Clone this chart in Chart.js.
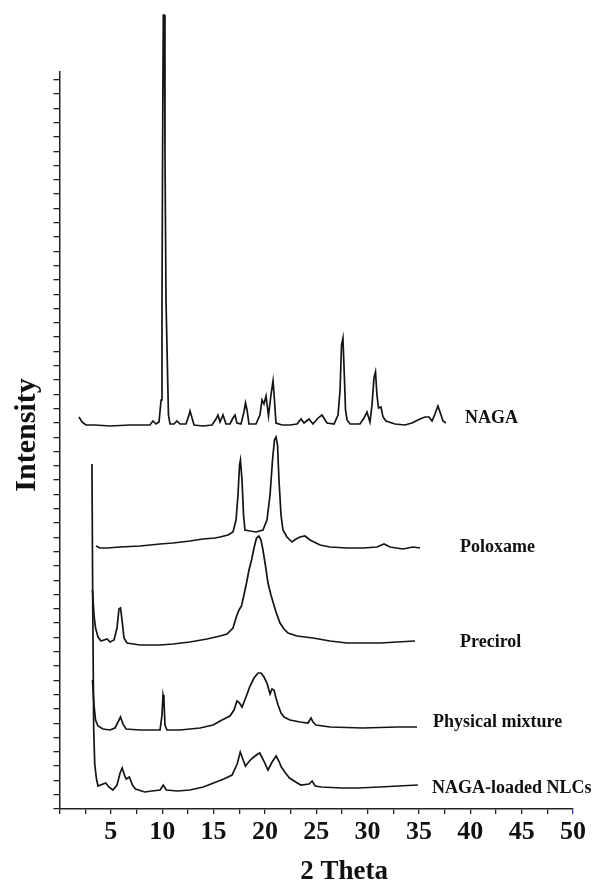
<!DOCTYPE html>
<html>
<head>
<meta charset="utf-8">
<script src="https://cdn.jsdelivr.net/npm/chart.js@4.4.1/dist/chart.umd.min.js"></script>
<style>
  html, body { margin: 0; padding: 0; background: #fff; }
  #wrap { width: 595px; height: 889px; position: relative; }
</style>
</head>
<body>
<div id="wrap"><canvas id="c"></canvas></div>
<script>
// ---- data: [2 theta, intensity (a.u., stacked as plotted)] ----
const nagaData = [[1.90,392],[2.19,387],[2.58,384],[3.46,384],[4.92,383],[6.86,384],[8.81,384],[9.10,388],[9.40,385],[9.69,387],[9.89,409],[9.98,509],[10.06,709],[10.11,794],[10.21,794],[10.27,659],[10.37,509],[10.51,441],[10.61,394],[10.76,385],[11.15,385],[11.44,388],[11.73,385],[12.32,385],[12.61,394],[12.71,398],[12.85,393],[13.10,384],[13.97,383],[14.85,384],[15.24,390],[15.43,394],[15.63,387],[15.92,394],[16.21,385],[16.60,385],[16.89,391],[17.09,394],[17.28,386],[17.67,385],[17.96,397],[18.11,406],[18.26,399],[18.45,385],[19.13,385],[19.52,394],[19.72,409],[19.91,405],[20.11,413],[20.35,393],[20.59,414],[20.79,428],[20.93,409],[21.08,386],[21.67,384],[22.44,384],[23.13,385],[23.52,390],[23.81,386],[24.29,390],[24.68,385],[25.17,391],[25.56,394],[26.05,386],[26.73,385],[27.12,394],[27.32,419],[27.46,464],[27.60,471],[27.75,429],[27.85,399],[28.0,389],[28.29,385],[29.26,385],[29.65,391],[29.94,397],[30.23,387],[30.43,404],[30.62,431],[30.77,437],[30.91,414],[31.06,401],[31.30,402],[31.50,392],[31.79,388],[32.67,385],[33.64,384],[34.32,386],[34.71,388],[35.10,390],[35.59,392],[35.98,392],[36.27,388],[36.56,395],[36.85,403],[37.15,394],[37.34,388],[37.63,386]];

const poloxamerData = [[3.55,263],[3.94,261],[4.63,261],[5.89,262],[7.84,263],[9.79,265],[11.05,266],[12.71,268],[13.97,270],[15.14,271],[15.63,272],[16.41,274],[16.89,277],[17.19,289],[17.38,314],[17.53,344],[17.62,349],[17.77,329],[17.92,294],[18.06,279],[18.55,278],[19.13,277],[19.81,279],[20.20,289],[20.50,314],[20.74,349],[20.93,369],[21.08,372],[21.23,364],[21.37,329],[21.57,294],[21.76,279],[22.15,272],[22.64,267],[23.03,270],[23.42,272],[23.90,273],[24.39,269],[25.37,264],[26.34,262],[27.99,261],[29.55,261],[30.92,262],[31.60,265],[32.18,262],[33.45,260],[34.42,262],[35.10,261]];

const precirolData = [[3.21,219],[3.36,194],[3.51,181],[3.75,172],[4.04,168],[4.33,169],[4.63,170],[4.92,167],[5.31,169],[5.60,181],[5.79,200],[5.94,201],[6.09,189],[6.28,171],[6.57,166],[7.84,164],[9.79,164],[11.05,165],[12.71,167],[14.36,170],[15.63,173],[16.31,175],[16.89,181],[17.28,194],[17.48,199],[17.72,203],[17.96,214],[18.21,226],[18.45,239],[18.70,249],[18.94,261],[19.18,271],[19.42,273],[19.62,269],[19.81,259],[20.06,243],[20.30,226],[20.59,214],[20.79,207],[21.08,197],[21.47,186],[21.86,180],[22.25,176],[23.13,173],[24.68,171],[26.34,168],[27.99,166],[29.55,166],[31.21,166],[32.86,167],[34.61,168]];

const physicalMixtureData = [[3.21,129],[3.36,104],[3.51,89],[3.75,83],[4.24,80],[4.92,79],[5.40,81],[5.70,87],[5.94,92],[6.18,85],[6.48,80],[7.84,79],[9.79,79],[9.98,94],[10.08,114],[10.17,109],[10.27,84],[10.47,79],[11.73,79],[12.71,80],[13.68,81],[14.95,84],[15.82,89],[16.60,93],[16.99,99],[17.28,108],[17.53,106],[17.77,102],[18.16,112],[18.55,123],[18.94,131],[19.33,136],[19.62,136],[19.91,132],[20.20,126],[20.50,115],[20.69,120],[20.89,119],[21.08,111],[21.28,104],[21.57,96],[21.86,92],[22.44,89],[23.42,87],[24.20,86],[24.49,91],[24.68,87],[24.98,84],[26.34,82],[29.55,81],[32.86,82],[34.81,82]];

const nlcData = [[3.16,345],[3.24,200],[3.33,80],[3.43,45],[3.6,30],[3.75,23],[4.0,24],[4.5,26],[4.8,22],[5.2,19],[5.6,24],[5.9,36],[6.1,41],[6.35,33],[6.5,30],[6.8,32],[7.1,24],[7.4,20],[8.3,17],[9.0,18],[9.8,19],[10.1,24],[10.4,19],[11.5,18],[12.7,19],[14.0,22],[15.0,26],[16.0,30],[16.8,34],[17.3,45],[17.6,57],[17.85,50],[18.1,43],[18.5,48],[18.8,51],[19.3,55],[19.5,56],[19.9,48],[20.3,39],[20.7,47],[21.1,53],[21.4,47],[21.6,42],[22.0,36],[22.4,31],[23.0,27],[23.5,24],[24.3,25],[24.6,28],[24.9,23],[25.5,22],[27.5,21],[29.0,21],[31.2,22],[33.0,23],[34.9,24]];

const seriesNames = ['NAGA', 'Poloxame', 'Precirol', 'Physical mixture', 'NAGA-loaded NLCs'];
const xTickLabels = ['5','10','15','20','25','30','35','40','45','50'];
const xTitle = '2 Theta';
const yTitle = 'Intensity';

// ---- presentation ----
const allSeries = [nagaData, poloxamerData, precirolData, physicalMixtureData, nlcData];
const labelPos = [[465, 418], [460, 547], [460, 642], [433, 722], [432, 788]];
const serif = '"Liberation Serif", "Times New Roman", serif';

const textPlugin = {
  id: 'texts',
  afterDraw(chart) {
    const ctx = chart.ctx;
    ctx.save();
    ctx.fillStyle = '#111';
    ctx.textBaseline = 'middle';
    ctx.textAlign = 'left';
    ctx.font = 'bold 18px ' + serif;
    seriesNames.forEach((n, i) => ctx.fillText(n, labelPos[i][0], labelPos[i][1]));
    ctx.textAlign = 'center';
    ctx.font = 'bold 27px ' + serif;
    ctx.fillText(xTitle, 344, 872);
    ctx.translate(27, 435);
    ctx.rotate(-Math.PI / 2);
    ctx.font = 'bold 30px ' + serif;
    ctx.fillText(yTitle, 0, 0);
    ctx.restore();
  }
};

new Chart(document.getElementById('c'), {
  type: 'line',
  data: {
    datasets: allSeries.map((s, i) => ({
      label: seriesNames[i],
      data: s.map(p => ({ x: p[0], y: p[1] })),
      borderColor: '#141414',
      borderWidth: 1.7,
      pointRadius: 0,
      tension: 0,
      fill: false,
      clip: false
    }))
  },
  options: {
    responsive: true,
    maintainAspectRatio: false,
    animation: false,
    layout: { padding: { left: 0, right: 22, top: 72, bottom: 0 } },
    plugins: { legend: { display: false }, tooltip: { enabled: false } },
    scales: {
      x: {
        type: 'linear',
        min: 0, max: 50,
        afterFit(scale) { scale.height = 80; },
        border: { display: true, color: '#222', width: 1.5 },
        grid: {
          drawOnChartArea: false, drawTicks: true, tickLength: 5, lineWidth: 1.3,
          color: (c) => (c.tick && c.tick.value === 50) ? '#2b2bd6' : '#222'
        },
        ticks: {
          stepSize: 2.5, autoSkip: false, maxRotation: 0, includeBounds: false,
          padding: 3, color: '#111',
          font: { family: serif, size: 26, weight: 'bold' },
          callback: (v) => xTickLabels.includes(String(v)) ? String(v) : ''
        }
      },
      y: {
        type: 'linear',
        min: 0, max: 737,
        afterFit(scale) { scale.width = 59.5; },
        border: { display: true, color: '#222', width: 1.5 },
        grid: { drawOnChartArea: false, drawTicks: true, tickLength: 6, color: '#222', lineWidth: 1.3 },
        ticks: {
          stepSize: 14.3, autoSkip: false, includeBounds: false,
          font: { size: 6 },
          callback: () => ''
        }
      }
    }
  },
  plugins: [textPlugin]
});
</script>
</body>
</html>
